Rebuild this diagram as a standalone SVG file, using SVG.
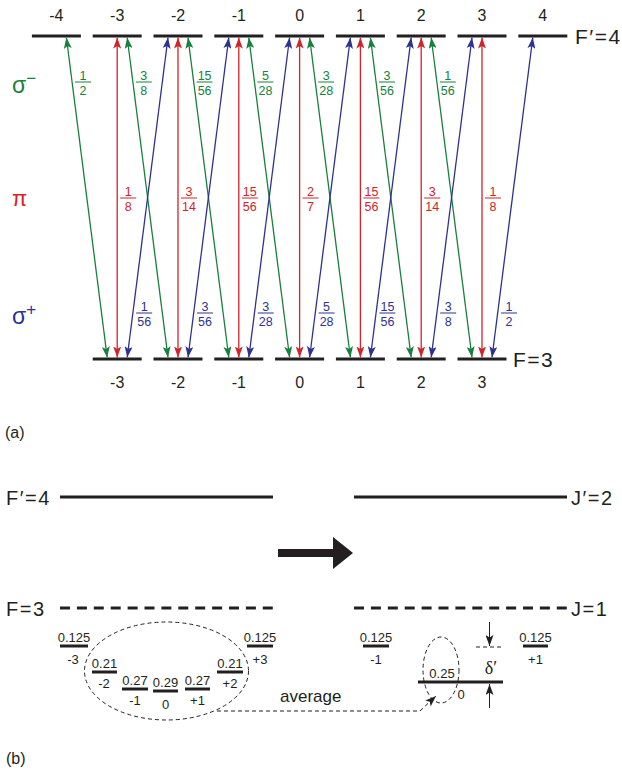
<svg xmlns="http://www.w3.org/2000/svg" width="622" height="774" viewBox="0 0 622 774">
<style>
text{font-family:"Liberation Sans",Arial,sans-serif;fill:#231f20}
.lvl{stroke:#231f20;stroke-width:3}
.mlab{font-size:16px;text-anchor:middle}
.big{font-size:21px;letter-spacing:1.5px}
.bl{font-size:20px;letter-spacing:1.5px}
.fr{font-size:12.5px;text-anchor:middle}
.g{fill:#17803d}.r{fill:#d2232a}.b{fill:#2e3192}
.fg{stroke:#17803d;stroke-width:1}.fre{stroke:#d2232a;stroke-width:1}.fb{stroke:#2e3192;stroke-width:1}
.ag{stroke:#17803d;stroke-width:1.3;fill:none;marker-start:url(#mg);marker-end:url(#mg)}
.ar{stroke:#d2232a;stroke-width:1.3;fill:none;marker-start:url(#mr);marker-end:url(#mr)}
.ab{stroke:#2e3192;stroke-width:1.3;fill:none;marker-start:url(#mb);marker-end:url(#mb)}
.sub{stroke:#231f20;stroke-width:3}
.st{font-size:13px;text-anchor:middle}
.dash{stroke:#231f20;stroke-width:3;stroke-dasharray:10 6.9}
.el{fill:none;stroke:#231f20;stroke-width:1;stroke-dasharray:4 3}
</style>
<defs>
<marker id="mg" markerUnits="userSpaceOnUse" markerWidth="11" markerHeight="8" refX="11" refY="4" orient="auto-start-reverse"><path d="M0,0 L11,4 L0,8 L2.5,4 z" fill="#17803d"/></marker>
<marker id="mr" markerUnits="userSpaceOnUse" markerWidth="11" markerHeight="8" refX="11" refY="4" orient="auto-start-reverse"><path d="M0,0 L11,4 L0,8 L2.5,4 z" fill="#d2232a"/></marker>
<marker id="mb" markerUnits="userSpaceOnUse" markerWidth="11" markerHeight="8" refX="11" refY="4" orient="auto-start-reverse"><path d="M0,0 L11,4 L0,8 L2.5,4 z" fill="#2e3192"/></marker>
<marker id="mk" markerUnits="userSpaceOnUse" markerWidth="11" markerHeight="8" refX="11" refY="4" orient="auto"><path d="M0,0 L11,4 L0,8 L2.5,4 z" fill="#231f20"/></marker>
</defs>

<!-- (a) upper levels F'=4 -->
<g id="upper-levels">
<g id="u-4"><line class="lvl" x1="31.9" y1="36" x2="80.9" y2="36"/><text class="mlab" x="56.4" y="21">-4</text></g>
<g id="u-3"><line class="lvl" x1="92.7" y1="36" x2="141.7" y2="36"/><text class="mlab" x="117.2" y="21">-3</text></g>
<g id="u-2"><line class="lvl" x1="153.5" y1="36" x2="202.5" y2="36"/><text class="mlab" x="178" y="21">-2</text></g>
<g id="u-1"><line class="lvl" x1="214.3" y1="36" x2="263.3" y2="36"/><text class="mlab" x="238.8" y="21">-1</text></g>
<g id="u0"><line class="lvl" x1="275.1" y1="36" x2="324.1" y2="36"/><text class="mlab" x="299.6" y="21">0</text></g>
<g id="u1"><line class="lvl" x1="335.9" y1="36" x2="384.9" y2="36"/><text class="mlab" x="360.4" y="21">1</text></g>
<g id="u2"><line class="lvl" x1="396.7" y1="36" x2="445.7" y2="36"/><text class="mlab" x="421.2" y="21">2</text></g>
<g id="u3"><line class="lvl" x1="457.5" y1="36" x2="506.5" y2="36"/><text class="mlab" x="482" y="21">3</text></g>
<g id="u4"><line class="lvl" x1="518.3" y1="36" x2="567.3" y2="36"/><text class="mlab" x="542.8" y="21">4</text></g>
<text class="big" x="575" y="44">F′=4</text>
</g>

<!-- lower levels F=3 -->
<g id="lower-levels">
<g id="l-3"><line class="lvl" x1="92.7" y1="359" x2="141.7" y2="359"/><text class="mlab" x="117.2" y="388">-3</text></g>
<g id="l-2"><line class="lvl" x1="153.5" y1="359" x2="202.5" y2="359"/><text class="mlab" x="178" y="388">-2</text></g>
<g id="l-1"><line class="lvl" x1="214.3" y1="359" x2="263.3" y2="359"/><text class="mlab" x="238.8" y="388">-1</text></g>
<g id="l0"><line class="lvl" x1="275.1" y1="359" x2="324.1" y2="359"/><text class="mlab" x="299.6" y="388">0</text></g>
<g id="l1"><line class="lvl" x1="335.9" y1="359" x2="384.9" y2="359"/><text class="mlab" x="360.4" y="388">1</text></g>
<g id="l2"><line class="lvl" x1="396.7" y1="359" x2="445.7" y2="359"/><text class="mlab" x="421.2" y="388">2</text></g>
<g id="l3"><line class="lvl" x1="457.5" y1="359" x2="506.5" y2="359"/><text class="mlab" x="482" y="388">3</text></g>
<text class="big" x="513" y="367">F=3</text>
</g>

<!-- transitions -->
<g id="connectors">
<line class="ag" x1="107.2" y1="357.5" x2="66.4" y2="37.5"/>
<line class="ag" x1="168" y1="357.5" x2="127.2" y2="37.5"/>
<line class="ag" x1="228.8" y1="357.5" x2="188" y2="37.5"/>
<line class="ag" x1="289.6" y1="357.5" x2="248.8" y2="37.5"/>
<line class="ag" x1="350.4" y1="357.5" x2="309.6" y2="37.5"/>
<line class="ag" x1="411.2" y1="357.5" x2="370.4" y2="37.5"/>
<line class="ag" x1="472" y1="357.5" x2="431.2" y2="37.5"/>

<line class="ar" x1="117.2" y1="357.5" x2="117.2" y2="37.5"/>
<line class="ar" x1="178" y1="357.5" x2="178" y2="37.5"/>
<line class="ar" x1="238.8" y1="357.5" x2="238.8" y2="37.5"/>
<line class="ar" x1="299.6" y1="357.5" x2="299.6" y2="37.5"/>
<line class="ar" x1="360.4" y1="357.5" x2="360.4" y2="37.5"/>
<line class="ar" x1="421.2" y1="357.5" x2="421.2" y2="37.5"/>
<line class="ar" x1="482" y1="357.5" x2="482" y2="37.5"/>

<line class="ab" x1="127.2" y1="357.5" x2="168" y2="37.5"/>
<line class="ab" x1="188" y1="357.5" x2="228.8" y2="37.5"/>
<line class="ab" x1="248.8" y1="357.5" x2="289.6" y2="37.5"/>
<line class="ab" x1="309.6" y1="357.5" x2="350.4" y2="37.5"/>
<line class="ab" x1="370.4" y1="357.5" x2="411.2" y2="37.5"/>
<line class="ab" x1="431.2" y1="357.5" x2="472" y2="37.5"/>
<line class="ab" x1="492" y1="357.5" x2="532.8" y2="37.5"/>
</g>

<!-- polarisation labels -->
<g id="pol-labels">
<text x="12" y="93" style="font-size:23px" class="g">σ<tspan dy="-9" style="font-size:17px">−</tspan></text>
<text x="12" y="206" style="font-size:22px" class="r">π</text>
<text x="12" y="324" style="font-size:23px" class="b">σ<tspan dy="-9" style="font-size:17px">+</tspan></text>
</g>

<!-- sigma minus fractions -->
<g id="frac-sigma-minus">
<line class="fg" x1="75" y1="82" x2="91" y2="82"/><text class="fr g" x="83" y="80">1</text><text class="fr g" x="83" y="95">2</text>
<line class="fg" x1="135.8" y1="82" x2="151.8" y2="82"/><text class="fr g" x="143.8" y="80">3</text><text class="fr g" x="143.8" y="95">8</text>
<line class="fg" x1="196.6" y1="82" x2="212.6" y2="82"/><text class="fr g" x="204.6" y="80">15</text><text class="fr g" x="204.6" y="95">56</text>
<line class="fg" x1="257.4" y1="82" x2="273.4" y2="82"/><text class="fr g" x="265.4" y="80">5</text><text class="fr g" x="265.4" y="95">28</text>
<line class="fg" x1="318.2" y1="82" x2="334.2" y2="82"/><text class="fr g" x="326.2" y="80">3</text><text class="fr g" x="326.2" y="95">28</text>
<line class="fg" x1="379" y1="82" x2="395" y2="82"/><text class="fr g" x="387" y="80">3</text><text class="fr g" x="387" y="95">56</text>
<line class="fg" x1="439.8" y1="82" x2="455.8" y2="82"/><text class="fr g" x="447.8" y="80">1</text><text class="fr g" x="447.8" y="95">56</text>
</g>

<!-- pi fractions -->
<g id="frac-pi">
<line class="fre" x1="120.2" y1="198" x2="136.2" y2="198"/><text class="fr r" x="128.2" y="196">1</text><text class="fr r" x="128.2" y="211">8</text>
<line class="fre" x1="181" y1="198" x2="197" y2="198"/><text class="fr r" x="189" y="196">3</text><text class="fr r" x="189" y="211">14</text>
<line class="fre" x1="241.8" y1="198" x2="257.8" y2="198"/><text class="fr r" x="249.8" y="196">15</text><text class="fr r" x="249.8" y="211">56</text>
<line class="fre" x1="302.6" y1="198" x2="318.6" y2="198"/><text class="fr r" x="310.6" y="196">2</text><text class="fr r" x="310.6" y="211">7</text>
<line class="fre" x1="363.4" y1="198" x2="379.4" y2="198"/><text class="fr r" x="371.4" y="196">15</text><text class="fr r" x="371.4" y="211">56</text>
<line class="fre" x1="424.2" y1="198" x2="440.2" y2="198"/><text class="fr r" x="432.2" y="196">3</text><text class="fr r" x="432.2" y="211">14</text>
<line class="fre" x1="485" y1="198" x2="501" y2="198"/><text class="fr r" x="493" y="196">1</text><text class="fr r" x="493" y="211">8</text>
</g>

<!-- sigma plus fractions -->
<g id="frac-sigma-plus">
<line class="fb" x1="136.2" y1="313" x2="152.2" y2="313"/><text class="fr b" x="144.2" y="311">1</text><text class="fr b" x="144.2" y="326">56</text>
<line class="fb" x1="197" y1="313" x2="213" y2="313"/><text class="fr b" x="205" y="311">3</text><text class="fr b" x="205" y="326">56</text>
<line class="fb" x1="257.8" y1="313" x2="273.8" y2="313"/><text class="fr b" x="265.8" y="311">3</text><text class="fr b" x="265.8" y="326">28</text>
<line class="fb" x1="318.6" y1="313" x2="334.6" y2="313"/><text class="fr b" x="326.6" y="311">5</text><text class="fr b" x="326.6" y="326">28</text>
<line class="fb" x1="379.4" y1="313" x2="395.4" y2="313"/><text class="fr b" x="387.4" y="311">15</text><text class="fr b" x="387.4" y="326">56</text>
<line class="fb" x1="440.2" y1="313" x2="456.2" y2="313"/><text class="fr b" x="448.2" y="311">3</text><text class="fr b" x="448.2" y="326">8</text>
<line class="fb" x1="501" y1="313" x2="517" y2="313"/><text class="fr b" x="509" y="311">1</text><text class="fr b" x="509" y="326">2</text>
</g>

<text x="5" y="438" style="font-size:16px">(a)</text>

<!-- (b) -->
<g id="b-upper-left"><line class="lvl" x1="60" y1="497" x2="273" y2="497"/><text class="bl" x="6" y="505">F′=4</text></g>
<g id="b-upper-right"><line class="lvl" x1="354" y1="497" x2="567" y2="497"/><text class="bl" x="571" y="505">J′=2</text></g>
<g id="big-arrow"><path d="M278,549 L333,549 L333,537 L353,553 L333,569 L333,557 L278,557 z" fill="#231f20"/></g>
<g id="b-lower-left"><line class="dash" x1="60" y1="608" x2="273" y2="608"/><text class="bl" x="6" y="616">F=3</text></g>
<g id="b-lower-right"><line class="dash" x1="354" y1="608" x2="567" y2="608"/><text class="bl" x="571" y="616">J=1</text></g>

<g id="sublevels-F3">
<g id="s-3"><line class="sub" x1="60" y1="646" x2="88" y2="646"/><text class="st" x="74" y="642">0.125</text><text class="st" x="73" y="664">-3</text></g>
<g id="s-2"><line class="sub" x1="92" y1="672" x2="117" y2="672"/><text class="st" x="104.5" y="668">0.21</text><text class="st" x="104" y="688">-2</text></g>
<g id="s-1"><line class="sub" x1="122" y1="689" x2="148" y2="689"/><text class="st" x="135" y="685">0.27</text><text class="st" x="135" y="705">-1</text></g>
<g id="s0"><line class="sub" x1="153" y1="691" x2="178" y2="691"/><text class="st" x="165.5" y="687">0.29</text><text class="st" x="165.5" y="709">0</text></g>
<g id="s1"><line class="sub" x1="185" y1="689" x2="210" y2="689"/><text class="st" x="197.5" y="685">0.27</text><text class="st" x="197.5" y="705">+1</text></g>
<g id="s2"><line class="sub" x1="217" y1="672" x2="243" y2="672"/><text class="st" x="230" y="668">0.21</text><text class="st" x="230" y="688">+2</text></g>
<g id="s3"><line class="sub" x1="247" y1="646" x2="273" y2="646"/><text class="st" x="260" y="642">0.125</text><text class="st" x="260" y="664">+3</text></g>
<ellipse class="el" cx="166.5" cy="671" rx="82" ry="49"/>
</g>

<g id="sublevels-J1">
<g id="j-1"><line class="sub" x1="363" y1="646" x2="389" y2="646"/><text class="st" x="376" y="642">0.125</text><text class="st" x="376" y="664">-1</text></g>
<g id="j1"><line class="sub" x1="523" y1="646" x2="548" y2="646"/><text class="st" x="535.5" y="642">0.125</text><text class="st" x="535.5" y="664">+1</text></g>
<g id="j0"><line class="sub" x1="418" y1="682" x2="503" y2="682"/><text class="st" x="442" y="678">0.25</text><text class="st" x="461" y="699">0</text></g>
<ellipse class="el" cx="441" cy="670" rx="18" ry="33"/>
<line x1="476" y1="647" x2="503" y2="647" stroke="#231f20" stroke-width="1" stroke-dasharray="4 3"/>
<line x1="489.5" y1="622" x2="489.5" y2="646" stroke="#231f20" stroke-width="1" marker-end="url(#mk)"/>
<line x1="489.5" y1="708" x2="489.5" y2="684" stroke="#231f20" stroke-width="1" marker-end="url(#mk)"/>
<text x="491" y="674" style="font-family:'Liberation Serif',serif;font-size:18px;text-anchor:middle">δ′</text>
</g>

<g id="average-connector">
<path d="M217,711 L420,711 L436,696" fill="none" stroke="#231f20" stroke-width="1" stroke-dasharray="4 3" marker-end="url(#mk)"/>
<text x="280" y="702" style="font-size:17px">average</text>
</g>

<text x="6" y="764" style="font-size:16px">(b)</text>
</svg>
